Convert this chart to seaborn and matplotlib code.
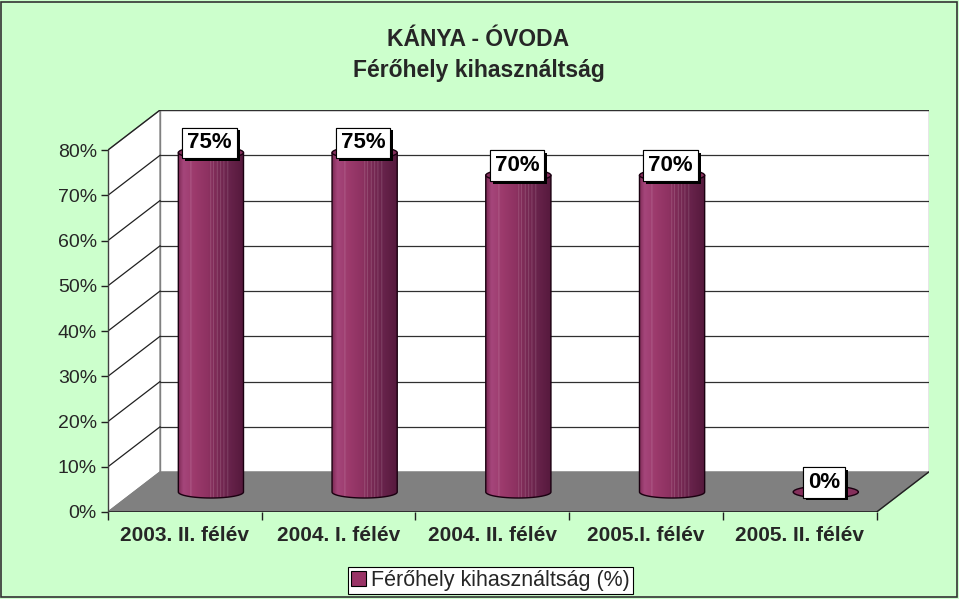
import numpy as np
import pandas as pd
import matplotlib
matplotlib.use('Agg')
import matplotlib.pyplot as plt
import matplotlib.patheffects as pe
from matplotlib.patches import Polygon, Ellipse, PathPatch, Rectangle, Patch
from matplotlib.path import Path
from matplotlib.colors import to_rgb
import seaborn as sns

# data
categories = ['2003. II. félév', '2004. I. félév', '2004. II. félév', '2005.I. félév', '2005. II. félév']
values = [75, 75, 70, 70, 0]
y_ticks = [0, 10, 20, 30, 40, 50, 60, 70, 80]
series_name = 'Férőhely kihasználtság (%)'
title_1 = 'KÁNYA - ÓVODA'
title_2 = 'Férőhely kihasználtság'

df = pd.DataFrame({'period': categories, 'pct': values})

sns.set_theme(style='white')
plt.rcParams['font.family'] = ['Liberation Sans', 'DejaVu Sans']

BG = '#CCFFCC'
PLUM = '#993366'

fig = plt.figure(figsize=(9.59, 5.99), dpi=100, facecolor=BG)
fig.patches.append(Rectangle((0.001, 0.003), 0.997, 0.994, transform=fig.transFigure,
                             fill=False, ec='#333333', lw=1.2))

# axes placed so front axis spans 108..875 px, back wall reaches 928 px / 110 px
ax = fig.add_axes([108 / 959, 1 - 512 / 599, (928.7 - 108) / 959, (512 - 110) / 599])
ax.set_facecolor('none')

n = len(categories)
DX = 52 / 153.4          # depth offset in category units
DY = 40 / 4.525          # depth offset in percent units
top_v = y_ticks[-1]
x0, x1 = -0.5, n - 0.5

sns.barplot(data=df, x='period', y='pct', ax=ax, width=0.424, color=PLUM,
            saturation=1, zorder=2)

# walls and floor
ax.add_patch(Polygon([(x0, 0), (x0, top_v), (x0 + DX, top_v + DY), (x0 + DX, DY)],
                     closed=True, fc='white', ec='#808080', lw=1, zorder=0.2))
ax.add_patch(Rectangle((x0 + DX, DY), x1 - x0, top_v, fc='white', ec='#808080', lw=1, zorder=0.2))
for t in y_ticks[1:]:
    ax.plot([x0 + DX, x1 + DX], [t + DY, t + DY], color='#303030', lw=0.9, zorder=0.3)
    ax.plot([x0, x0 + DX], [t, t + DY], color='#202020', lw=0.9, zorder=0.3)
ax.add_patch(Polygon([(x0, 0), (x1, 0), (x1 + DX, DY), (x0 + DX, DY)],
                     closed=True, fc='#808080', ec='#808080', lw=1, zorder=0.4))
ax.plot([x1, x1 + DX], [0, DY], color='#202020', lw=1, zorder=0.5)
ax.plot([x0, x1], [0, 0], color='#202020', lw=1.2, zorder=0.5)

# cylinder shading
stops = [0, 0.08, 0.25, 0.45, 0.6, 0.8, 1.0]
cols = ['#7e2a55', '#a5467b', '#9c3a6c', '#8e3262', '#7a2a55', '#66224a', '#55193c']
N = 120
xs = np.linspace(0, 1, N)
rgb = np.array([to_rgb(c) for c in cols])
grad = np.stack([np.interp(xs, stops, rgb[:, k]) for k in range(3)], axis=-1)
for s in [0.2, 0.5, 0.54, 0.6, 0.65, 0.7, 0.76]:
    j = int(s * (N - 1))
    grad[j] = grad[j] * 0.75 + 0.25
grad = grad[np.newaxis, :, :]

EH = 12 / 4.525          # ellipse height in percent units
bars = [p for p in ax.patches if isinstance(p, Rectangle) and p.get_width() < 1]
for bar, v in zip(bars, values):
    bx = bar.get_x() + DX / 2
    w = bar.get_width()
    cx = bx + w / 2
    base = bar.get_y() + DY / 2
    top = base + bar.get_height()
    bar.set_visible(False)
    if bar.get_height() > 0:
        th = np.linspace(np.pi, 2 * np.pi, 40)
        verts = [(bx, top), (bx, base)]
        verts += [(cx + w / 2 * np.cos(a), base + EH / 2 * np.sin(a)) for a in th]
        verts += [(bx + w, top), (bx, top)]
        path = Path(verts, [Path.MOVETO] + [Path.LINETO] * (len(verts) - 2) + [Path.CLOSEPOLY])
        clip = PathPatch(path, transform=ax.transData)
        im = ax.imshow(grad, extent=(bx, bx + w, base - EH / 2, top), aspect='auto',
                       interpolation='bilinear', zorder=2)
        im.set_clip_path(clip)
        ax.add_patch(PathPatch(path, fc='none', ec='#1a0010', lw=1, zorder=2.5))
    ax.add_patch(Ellipse((cx, top), w, EH, fc='#85305c', ec='#1a0010', lw=1, zorder=3))
    txt = ax.annotate(f'{v}%', (cx, top), xytext=(-1, 7), textcoords='offset points',
                      ha='center', va='center', fontsize=16, fontweight='bold', color='black',
                      zorder=5,
                      bbox=dict(boxstyle='square,pad=0.22', fc='white', ec='black', lw=0.8))
    txt.get_bbox_patch().set_path_effects([
        pe.withSimplePatchShadow(offset=(2, -2), shadow_rgbFace='black', alpha=1), pe.Normal()])

ax.set_xlim(x0, x1 + DX)
ax.set_ylim(0, top_v + DY)
ax.set_xlabel('')
ax.set_ylabel('')
for sp in ['top', 'right', 'bottom']:
    ax.spines[sp].set_visible(False)
ax.spines['left'].set_bounds(0, top_v)
ax.spines['left'].set_color('#404040')
ax.spines['left'].set_linewidth(1)

ax.set_yticks(y_ticks)
ax.set_yticklabels([f'{t}%' for t in y_ticks], fontsize=14)
ax.tick_params(axis='y', which='major', left=True, direction='out', length=5, width=1,
               color='#202020', pad=3)

ax.set_xticks(range(n))
ax.set_xticklabels(categories, fontsize=15, fontweight='bold')
ax.set_xticks(np.arange(x0, x1 + 0.01, 1), minor=True)
ax.tick_params(axis='x', which='major', bottom=True, length=0, pad=10)
ax.tick_params(axis='x', which='minor', bottom=True, direction='out', length=6, width=1,
               color='#202020')
ax.grid(False)

fig.text(478.5 / 959, 1 - 40 / 599, title_1, ha='center', va='center',
         fontsize=16.5, fontweight='bold')
fig.text(478.5 / 959, 1 - 70 / 599, title_2, ha='center', va='center',
         fontsize=16.5, fontweight='bold')

leg = fig.legend(handles=[Patch(fc=PLUM, ec='black', lw=0.8, label=series_name)],
                 loc='center', bbox_to_anchor=(490.5 / 959, 1 - 580.5 / 599),
                 fontsize=15.5, frameon=True, fancybox=False, edgecolor='black',
                 framealpha=1, borderpad=0.15, handlelength=0.7, handleheight=0.7,
                 handletextpad=0.25, borderaxespad=0)
leg.get_frame().set_linewidth(0.8)

fig.savefig('out.png', dpi=100, facecolor=BG)
